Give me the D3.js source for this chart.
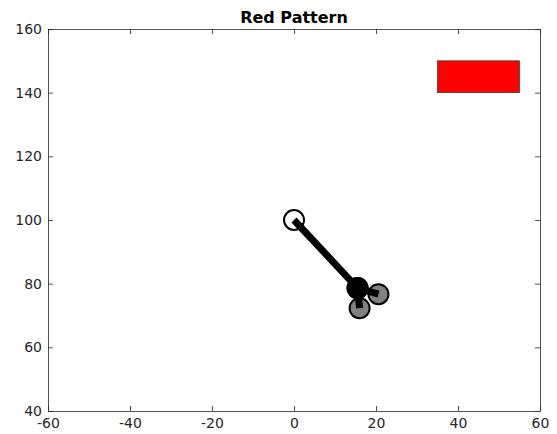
<!DOCTYPE html>
<html><head><meta charset="utf-8">
<script src="https://cdn.jsdelivr.net/npm/d3@7"></script>
<style>body{margin:0;background:#fff}svg{display:block}</style>
</head><body>
<script>
const titleText = "Red Pattern";
const xTicks = [-60, -40, -20, 0, 20, 40, 60];
const yTicks = [40, 60, 80, 100, 120, 140, 160];
const xDomain = [-60, 60];
const yDomain = [40, 160];
// red rectangle
const rectX = [35, 55];
const rectY = [140, 150];
// joints
const jointNames = ["root", "mid", "tipA", "tipB"];
const jointX = [0, 15.5, 16.0, 20.6];
const jointY = [100, 78.6, 72.3, 76.7];
const jointFill = ["white", "black", "#808080", "#808080"];
// segments between joints (indices)
const segFrom = [0, 1, 1];
const segTo = [1, 2, 3];

const W = 557, H = 434;
const m = {left: 48, right: 17, top: 29, bottom: 23};
const svg = d3.select("body").append("svg").attr("width", W).attr("height", H);
const x = d3.scaleLinear().domain(xDomain).range([m.left, W - m.right]);
const y = d3.scaleLinear().domain(yDomain).range([H - m.bottom, m.top]);
const font = "DejaVu Sans, sans-serif";
const axCol = "#262626";
const fmt = d => String(d);

svg.append("rect")
  .attr("x", x(rectX[0])).attr("y", y(rectY[1]))
  .attr("width", x(rectX[1]) - x(rectX[0]))
  .attr("height", y(rectY[0]) - y(rectY[1]))
  .attr("fill", "#ff0000").attr("stroke", "#333").attr("stroke-width", 0.7);

const R = 10;
jointNames.forEach((n, i) => {
  svg.append("circle").attr("cx", x(jointX[i])).attr("cy", y(jointY[i])).attr("r", R)
    .attr("fill", jointFill[i]).attr("stroke", "black").attr("stroke-width", 2);
});
segFrom.forEach((a, k) => {
  const b = segTo[k];
  svg.append("line")
    .attr("x1", x(jointX[a])).attr("y1", y(jointY[a]))
    .attr("x2", x(jointX[b])).attr("y2", y(jointY[b]))
    .attr("stroke", "black").attr("stroke-width", 7);
});
svg.append("circle").attr("cx", x(jointX[1])).attr("cy", y(jointY[1])).attr("r", R)
  .attr("fill", "black").attr("stroke", "black").attr("stroke-width", 2);

const tl = 5;
const axB = svg.append("g").attr("transform", `translate(0,${H - m.bottom})`)
  .call(d3.axisBottom(x).tickValues(xTicks).tickSizeInner(-tl).tickSizeOuter(0).tickPadding(7).tickFormat(fmt));
const axT = svg.append("g").attr("transform", `translate(0,${m.top})`)
  .call(d3.axisTop(x).tickValues(xTicks).tickSizeInner(-tl).tickSizeOuter(0).tickFormat(""));
const axL = svg.append("g").attr("transform", `translate(${m.left},0)`)
  .call(d3.axisLeft(y).tickValues(yTicks).tickSizeInner(-tl).tickSizeOuter(0).tickPadding(6).tickFormat(fmt));
const axR = svg.append("g").attr("transform", `translate(${W - m.right},0)`)
  .call(d3.axisRight(y).tickValues(yTicks).tickSizeInner(-tl).tickSizeOuter(0).tickFormat(""));
[axB, axT, axL, axR].forEach(g => {
  g.selectAll("path.domain").attr("stroke", axCol).attr("stroke-width", 0.8);
  g.selectAll(".tick line").attr("stroke", axCol).attr("stroke-width", 0.8);
  g.selectAll("text").attr("fill", axCol).attr("font-family", font).attr("font-size", 14);
});
axB.selectAll("text").attr("dy", "0.71em");

svg.append("text").attr("x", (x(xDomain[0]) + x(xDomain[1])) / 2).attr("y", 22.5)
  .attr("text-anchor", "middle").attr("font-family", font).attr("font-weight", "bold")
  .attr("font-size", 16).attr("fill", "black").text(titleText);
</script>
</body></html>
